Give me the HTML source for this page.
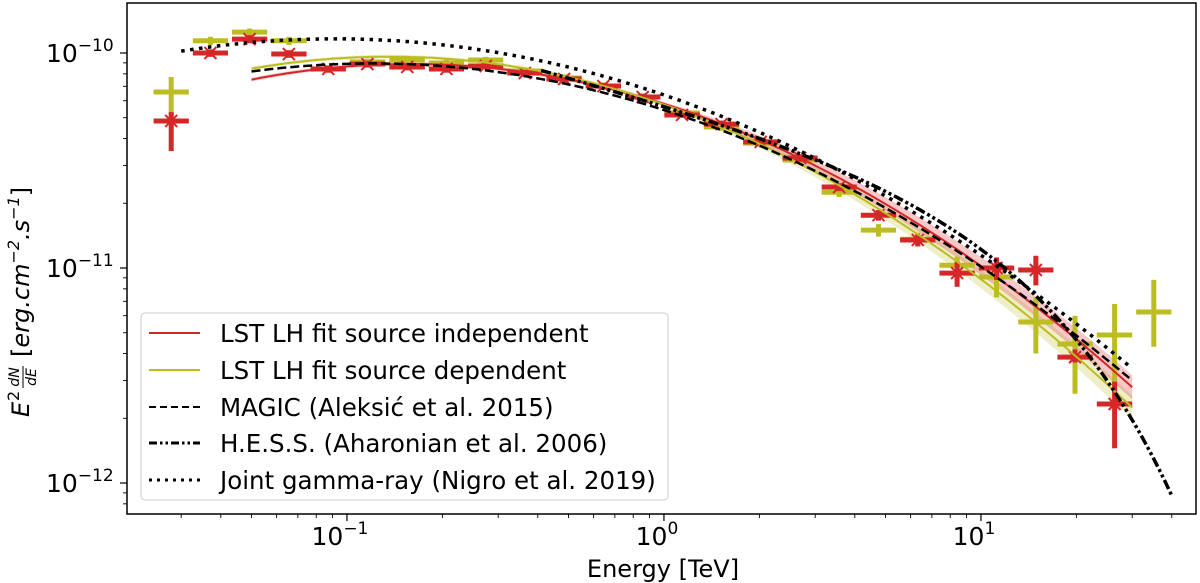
<!DOCTYPE html>
<html><head><meta charset="utf-8"><style>
html,body{margin:0;padding:0;background:#fff;}
svg{display:block;font-family:"DejaVu Sans","Liberation Sans",sans-serif;}
</style></head><body>
<svg id="chart" width="1200" height="583" viewBox="0 0 1200 583" xmlns="http://www.w3.org/2000/svg">
<defs><clipPath id="clip"><rect x="127" y="3" width="1069" height="511"/></clipPath></defs>
<g id="plot" clip-path="url(#clip)"></g>
<rect x="127" y="3" width="1069" height="511" fill="none" stroke="#000" stroke-width="1.5"/>
<g id="axes"></g>
<text x="663" y="577" text-anchor="middle" font-size="24">Energy [TeV]</text>
<g transform="translate(29,273) rotate(-90)">
<text x="-144" y="0" font-size="24" font-style="italic">E</text>
<text x="-128" y="-10" font-size="16">2</text>
<text x="-104" y="-10" font-size="14" font-style="italic" text-anchor="middle">dN</text>
<line x1="-115" y1="-6" x2="-93" y2="-6" stroke="#000" stroke-width="1"/>
<text x="-104" y="7" font-size="14" font-style="italic" text-anchor="middle">dE</text>
<text x="-84" y="0" font-size="24" font-style="italic"><tspan font-style="normal">[</tspan>erg.cm<tspan font-size="16" dy="-10">−2</tspan><tspan dy="10">.s</tspan><tspan font-size="16" dy="-10">−1</tspan><tspan dy="10" font-style="normal">]</tspan></text>
</g>
<g id="legend">
<rect x="141" y="313" width="527" height="187" rx="4" fill="#fff" fill-opacity="0.85" stroke="#ccc" stroke-width="1"/>
<line x1="149" y1="333" x2="200" y2="333" stroke="#d62728" stroke-width="2"/>
<text x="220" y="342" font-size="24.5">LST LH fit source independent</text>
<line x1="149" y1="370" x2="200" y2="370" stroke="#bcbd22" stroke-width="2"/>
<text x="220" y="379" font-size="24.5">LST LH fit source dependent</text>
<line x1="149" y1="407" x2="200" y2="407" stroke="#000" stroke-width="2" stroke-dasharray="7,4"/>
<text x="220" y="416" font-size="24.5">MAGIC (Aleksić et al. 2015)</text>
<line x1="149" y1="443" x2="200" y2="443" stroke="#000" stroke-width="3" stroke-dasharray="8,3,2.5,3,2.5,3"/>
<text x="220" y="452" font-size="24.5">H.E.S.S. (Aharonian et al. 2006)</text>
<line x1="149" y1="480" x2="200" y2="480" stroke="#000" stroke-width="3" stroke-dasharray="3,5"/>
<text x="220" y="489" font-size="24.5">Joint gamma-ray (Nigro et al. 2019)</text>
</g>
</svg>
<script>
// Energies in TeV (bin centres)
const energies = [0.0279,0.0371,0.0493,0.0656,0.0873,0.116,0.155,0.206,0.274,0.364,0.484,0.644,0.857,1.14,1.52,2.02,2.69,3.57,4.75,6.32,8.41,11.2,14.9,19.8,26.4,35.1];
// E^2 dN/dE in units of 1e-11 erg cm^-2 s^-1
const redFlux = [4.83,10.0,11.6,9.89,8.43,8.89,8.61,8.43,8.70,8.07,7.57,7.02,6.24,5.15,4.67,3.86,3.25,2.38,1.76,1.35,0.947,1.00,0.979,0.385,0.233];
const redLo   = [3.50,9.6,11.1,9.5,8.1,8.55,8.3,8.1,8.4,7.8,7.3,6.8,6.05,5.0,4.5,3.72,3.12,2.28,1.66,1.26,0.818,0.88,0.83,0.363,0.145];
const redHi   = [5.31,10.4,12.1,10.3,8.75,9.2,8.9,8.75,9.0,8.35,7.85,7.25,6.45,5.3,4.85,4.0,3.38,2.48,1.86,1.44,1.07,1.12,1.14,0.418,0.296];
const yelFlux = [6.59,11.4,12.5,11.4,8.43,9.08,9.28,8.98,9.28,8.25,7.65,7.02,6.24,5.26,4.53,3.81,3.18,2.25,1.50,1.36,1.03,0.908,0.561,0.443,0.488,0.624];
const yelLo   = [5.09,10.9,12.0,10.9,8.1,8.75,8.95,8.65,8.95,7.95,7.35,6.75,6.0,5.05,4.35,3.65,3.04,2.14,1.40,1.26,0.93,0.73,0.40,0.26,0.29,0.43];
const yelHi   = [7.73,11.9,13.0,11.9,8.75,9.4,9.6,9.3,9.6,8.55,7.95,7.3,6.5,5.47,4.72,3.98,3.32,2.37,1.60,1.46,1.13,1.06,0.73,0.60,0.68,0.88];
// Log-parabola models: [amplitude at 1 TeV (1e-11), alpha, beta, Emin, Emax]
const fitRed   = [5.80,2.464,0.290,0.05,30];
const fitYel   = [5.75,2.515,0.297,0.05,30];
const magic    = [5.43,2.472,0.257,0.05,30];
const joint    = [6.38,2.503,0.2424,0.03,30];
// Power law with exp cutoff: [amplitude, gamma, Ecut, Emin, Emax]
const hess     = [6.03,2.39,14.3,0.41,40];
const xTicks = [0.1,1,10];
const xTickLabels = ["10","10","10"];
const xTickExp = ["−1","0","1"];
const yTicks = [10,1,0.1];
const yTickExp = ["−10","−11","−12"];

const NS="http://www.w3.org/2000/svg";
const X = e => 126 + (Math.log10(e)+1.697)*317;
const Y = f => 53 + (1-Math.log10(f))*215;
const plot=document.getElementById('plot'), axes=document.getElementById('axes');
function mk(tag,attrs,parent){const el=document.createElementNS(NS,tag);for(const k in attrs)el.setAttribute(k,attrs[k]);parent.appendChild(el);return el;}

for(let d=-2; d<=2; d++){for(let m=1;m<10;m++){const e=m*Math.pow(10,d);const x=X(e);if(x<127||x>1196)continue;
 const t=mk('line',{x1:x,x2:x,y1:514,y2:514+(m===1?7:4),stroke:'#000','stroke-width':m===1?1.2:0.9},axes);
 
 }}
xTicks.forEach((e,i)=>{const t=mk('text',{x:X(e)-7,y:545,'text-anchor':'middle','font-size':25},axes);
 
 
 t.textContent=xTickLabels[i];const s=mk('tspan',{'font-size':17,dy:-11},t);s.textContent=xTickExp[i];});
for(let d=-2; d<=2; d++){for(let m=1;m<10;m++){const f=m*Math.pow(10,d);const y=Y(f);if(y<3||y>514)continue;
 const t=mk('line',{x1:127,x2:127-(m===1?7:4),y1:y,y2:y,stroke:'#000','stroke-width':m===1?1.2:0.9},axes);
 
 }}
yTicks.forEach((f,i)=>{const t=mk('text',{x:46,y:Y(f)+9,'font-size':25},axes);
 
 
 t.textContent='10';const s=mk('tspan',{'font-size':17,dy:-11},t);s.textContent=yTickExp[i];});

function lp(p,e){const L=Math.log10(e);return p[0]*Math.pow(10,(2-p[1])*L - p[2]*L*L);}
function ec(p,e){return p[0]*Math.pow(e,2-p[1])*Math.exp(-e/p[2]);}
function curve(fn,p,attrs){let d='';const n=200;const a=Math.log10(p[3]),b=Math.log10(p[4]);
 for(let i=0;i<=n;i++){const e=Math.pow(10,a+(b-a)*i/n);d+=(i?'L':'M')+X(e).toFixed(1)+','+Y(fn(p,e)).toFixed(1);}
 attrs.d=d;attrs.fill='none';return mk('path',attrs,plot);}
function band(fn,p,color){let up='',dn=[];const n=100;const a=Math.log10(p[3]),b=Math.log10(p[4]);
 for(let i=0;i<=n;i++){const e=Math.pow(10,a+(b-a)*i/n);const w=1.02+0.08*Math.max(0,Math.log10(e));
  up+=(i?'L':'M')+X(e).toFixed(1)+','+Y(fn(p,e)*w).toFixed(1);dn.push('L'+X(e).toFixed(1)+','+Y(fn(p,e)/w).toFixed(1));}
 return mk('path',{d:up+dn.reverse().join('')+'Z',fill:color,'fill-opacity':0.25,stroke:'none'},plot);}

let b1=band(lp,fitYel,'#bcbd22');


let b2=band(lp,fitRed,'#d62728');



function errs(flux,lo,hi,color,name,marker){flux.forEach((f,i)=>{const e=energies[i];
 const prev=i>0?energies[i-1]:e*e/energies[i+1], next=i<energies.length-1?energies[i+1]:e*e/energies[i-1];
 const el=Math.sqrt(prev*e), eh=Math.sqrt(next*e);
 const g=mk('g',{},plot);
 
 
 const xl=X(el)+2,xh=X(eh)-2;
 mk('line',{x1:xl,x2:xh,y1:Y(f),y2:Y(f),stroke:color,'stroke-width':5},g);
 mk('line',{x1:X(e),x2:X(e),y1:Y(lo[i]),y2:Y(hi[i]),stroke:color,'stroke-width':5},g);
 if(marker){const x=X(e),y=Y(f),s=6;mk('path',{d:`M${x-s},${y-s}L${x+s},${y+s}M${x-s},${y+s}L${x+s},${y-s}`,stroke:color,'stroke-width':2},g);}
});}
errs(yelFlux,yelLo,yelHi,'#bcbd22','src-dep',false);
errs(redFlux,redLo,redHi,'#d62728','src-indep',true);

let c;
c=curve(lp,fitRed,{stroke:'#d62728','stroke-width':2});


c=curve(lp,fitYel,{stroke:'#bcbd22','stroke-width':2});


c=curve(lp,magic,{stroke:'#000','stroke-width':2.5,'stroke-dasharray':'9,4'});


c=curve(ec,hess,{stroke:'#000','stroke-width':3.5,'stroke-dasharray':'10,3,3,3,3,3'});


c=curve(lp,joint,{stroke:'#000','stroke-width':3.5,'stroke-dasharray':'3.5,5.5'});


</script>
</body></html>
